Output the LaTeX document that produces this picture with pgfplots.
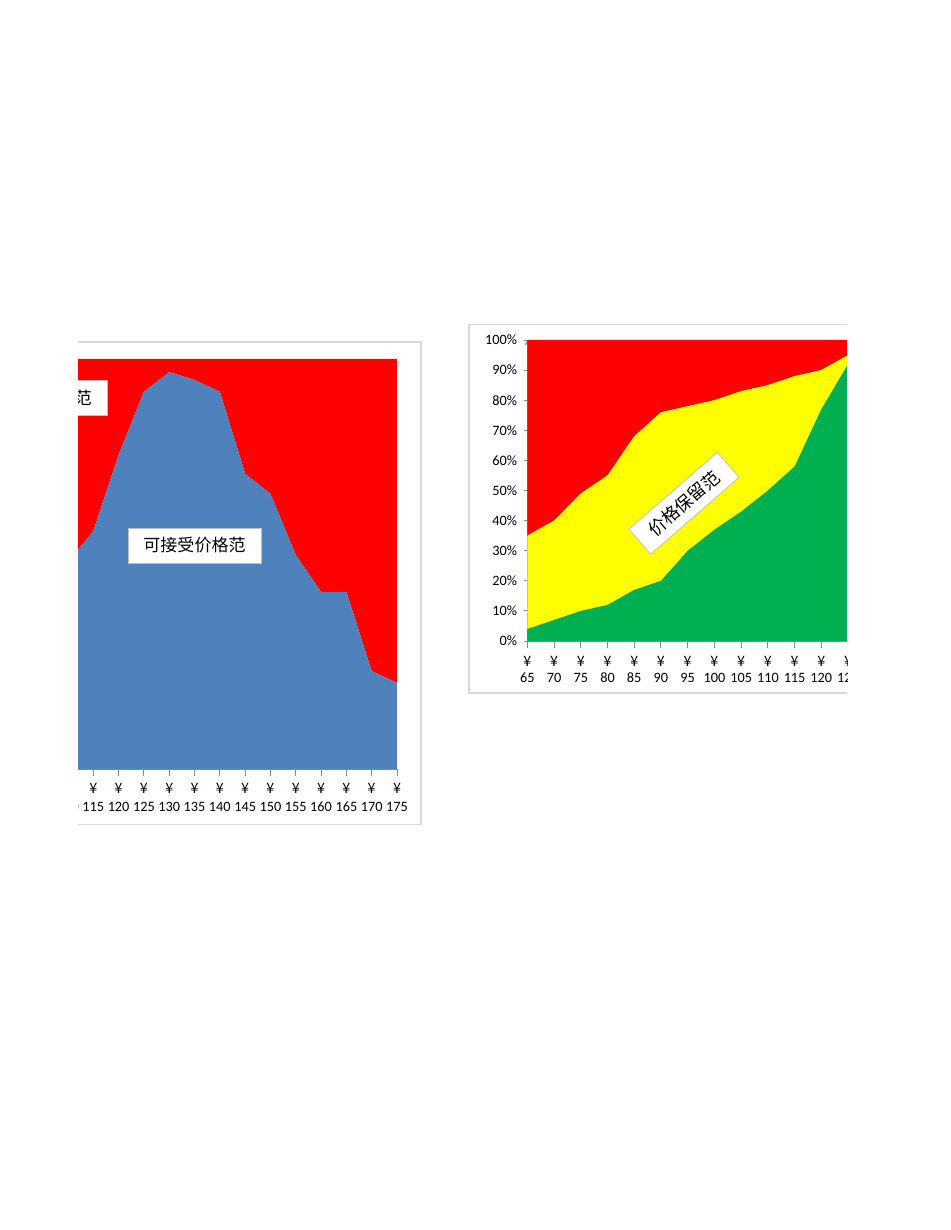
\documentclass[border=0pt]{standalone}
\usepackage{fontspec}
\setmainfont{Carlito}
\newfontfamily\cjk{Noto Sans CJK SC}
\usepackage{pgfplots}
\usepackage{pgfplotstable}
\pgfplotsset{compat=1.18}

\definecolor{xred}{HTML}{FF0000}
\definecolor{xblue}{HTML}{4F81BD}
\definecolor{xyellow}{HTML}{FFFF00}
\definecolor{xgreen}{HTML}{00B050}
\definecolor{framegray}{HTML}{D9D9D9}
\definecolor{boxgray}{HTML}{BFBFBF}
\definecolor{axisgray}{HTML}{898989}

% left chart: acceptable share (blue) and the rest (red)
\pgfplotstableread{
price blue red
110 50.5 49.5
115 58.0 42.0
120 76.6 23.4
125 92.0  8.0
130 96.8  3.2
135 94.9  5.1
140 92.0  8.0
145 72.0 28.0
150 67.1 32.9
155 52.2 47.8
160 43.2 56.8
165 43.2 56.8
170 23.9 76.1
175 21.0 79.0
}\lefttab

% right chart: green / yellow / red, stacked to 100%
\pgfplotstableread{
price green yellow red
65   4 31 65
70   7 33 60
75  10 39 51
80  12 43 45
85  17 51 32
90  20 56 24
95  30 48 22
100 37 43 20
105 43 40 17
110 50 35 15
115 58 30 12
120 77 13 10
125 92  3  5
130 95  2  3
}\righttab

\pgfplotsset{
  excelarea/.style={
    scale only axis,
    enlargelimits=false,
    stack plots=y,
    ymin=0, ymax=100,
    axis x line=bottom,
    axis line style={-, axisgray, line width=0.6pt},
    tick style={axisgray, line width=0.6pt},
    tick align=outside,
    major tick length=4.2pt,
    /pgf/number format/assume math mode=true,
    xticklabel={{\cjk ¥}\\\pgfmathprintnumber{\tick}},
    xticklabel style={align=center, text=black},
    yticklabel style={text=black},
  },
}

\begin{document}
\begin{tikzpicture}
\begin{scope}[x=0.6442pt, y=0.6442pt]
  \coordinate (pageSW) at (0,0);
  \coordinate (pageNE) at (950,1230);
  \coordinate (clipSW) at (78,0);
  \coordinate (clipNE) at (847,1230);
  \coordinate (LA) at (68,461);
  \coordinate (RA) at (527.3,589);
  \coordinate (LF1) at (30,405.5);
  \coordinate (LF2) at (421,888);
  \coordinate (RF1) at (469,537);
  \coordinate (RF2) at (900,905.5);
  \coordinate (B1) at (107.7,832.2);
  \coordinate (B2) at (194.5,684.5);
  \coordinate (B3) at (684,726.7);
\end{scope}
\fill[white] (pageSW) rectangle (pageNE);

\begin{scope}
\clip (clipSW) rectangle (clipNE);
\draw[framegray, line width=0.7pt] (LF1) rectangle (LF2);
\draw[framegray, line width=0.7pt] (RF1) rectangle (RF2);

\begin{axis}[
    excelarea,
    at={(LA)}, anchor=south west,
    width=211.94pt, height=264.12pt,
    xmin=110, xmax=175,
    xtick={110,115,...,175},
    axis y line=none,
    xticklabel style={font=\fontsize{9.2}{11.8}\selectfont, yshift=-1.3pt},
  ]
  \addplot[fill=xblue, draw=none] table[x=price, y=blue] {\lefttab} \closedcycle;
  \addplot[fill=xred, draw=none] table[x=price, y=red] {\lefttab} \closedcycle;
\end{axis}

\begin{axis}[
    excelarea,
    at={(RA)}, anchor=south west,
    width=223.86pt, height=193.90pt,
    xmin=65, xmax=130,
    xtick={65,70,...,130},
    axis y line=left,
    ytick={0,10,...,100},
    yticklabel={\pgfmathprintnumber{\tick}\%},
    xticklabel style={font=\fontsize{9.2}{10.3}\selectfont, yshift=-2.3pt},
    yticklabel style={font=\fontsize{9.2}{10}\selectfont, xshift=-1.0pt},
  ]
  \addplot[fill=xgreen, draw=none] table[x=price, y=green] {\righttab} \closedcycle;
  \addplot[fill=xyellow, draw=none] table[x=price, y=yellow] {\righttab} \closedcycle;
  \addplot[fill=xred, draw=none] table[x=price, y=red] {\righttab} \closedcycle;
\end{axis}

\node[anchor=east, fill=white, draw=boxgray, line width=0.5pt,
      minimum height=23pt, inner xsep=10pt,
      font=\cjk\fontsize{11}{13}\selectfont] at (B1) {价格保留范};
\node[fill=white, draw=boxgray, line width=0.5pt,
      minimum height=22.5pt, minimum width=85.7pt, inner xsep=6pt,
      font=\cjk\fontsize{11}{13}\selectfont] at (B2) {可接受价格范};
\node[fill=white, draw=boxgray, line width=0.5pt, rotate=41,
      minimum height=21.3pt, minimum width=75.4pt, inner xsep=5pt,
      font=\cjk\fontsize{11.3}{13}\selectfont] at (B3) {价格保留范};
\end{scope}

\pgfresetboundingbox
\path[use as bounding box] (pageSW) rectangle (pageNE);
\end{tikzpicture}
\end{document}
